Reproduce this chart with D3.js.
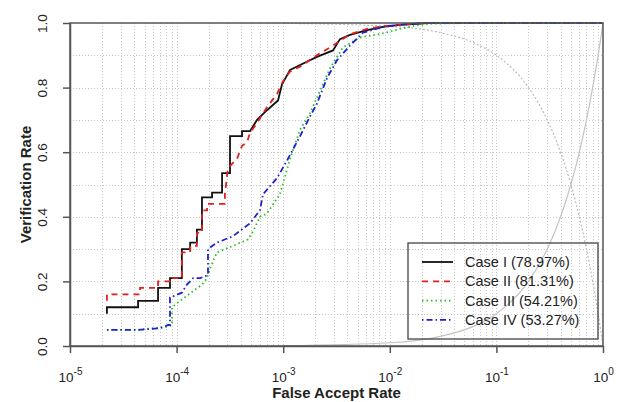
<!DOCTYPE html>
<html>
<head>
<meta charset="utf-8">
<script src="https://cdn.jsdelivr.net/npm/d3@7"></script>
<style>
  body { margin: 0; background: #fff; }
  text { font-family: "Liberation Sans", Arial, sans-serif; fill: #222; }
</style>
</head>
<body>
<script>
// false accept rate / verification rate
const caseIFar = [2.22e-5, 2.22e-5, 4.35e-5, 4.35e-5, 6.70e-5, 6.70e-5, 8.67e-5, 8.67e-5, 1.12e-4, 1.12e-4,
  1.34e-4, 1.34e-4, 1.55e-4, 1.55e-4, 1.73e-4, 1.73e-4, 2.15e-4, 2.15e-4, 2.67e-4, 2.67e-4,
  3.17e-4, 3.17e-4, 4.11e-4, 4.11e-4, 4.88e-4, 5.68e-4, 7.05e-4, 8.94e-4, 9.75e-4, 1.16e-3,
  1.44e-3, 2.07e-3, 2.93e-3, 3.41e-3, 4.23e-3, 6.11e-3, 8.63e-3, 1.25e-2, 2.23e-2, 1];
const caseIVr = [0.10, 0.12, 0.12, 0.14, 0.14, 0.18, 0.18, 0.21, 0.21, 0.30,
  0.30, 0.32, 0.32, 0.36, 0.36, 0.46, 0.46, 0.475, 0.475, 0.535,
  0.535, 0.65, 0.65, 0.665, 0.665, 0.70, 0.73, 0.76, 0.81, 0.855,
  0.87, 0.895, 0.915, 0.95, 0.963, 0.978, 0.988, 0.994, 1.0, 1.0];

const caseIIFar = [2.22e-5, 2.22e-5, 4.54e-5, 4.54e-5, 6.70e-5, 6.70e-5, 8.67e-5, 8.67e-5, 1.12e-4, 1.12e-4,
  1.34e-4, 1.34e-4, 1.55e-4, 1.55e-4, 1.73e-4, 1.73e-4, 1.93e-4, 1.93e-4, 2.84e-4, 2.84e-4,
  3.03e-4, 3.69e-4, 4.11e-4, 4.57e-4, 4.88e-4, 5.68e-4, 7.05e-4, 8.75e-4, 9.96e-4, 1.16e-3,
  1.44e-3, 2.07e-3, 2.93e-3, 3.41e-3, 4.23e-3, 6.11e-3, 8.63e-3, 1.25e-2, 2.23e-2, 1];
const caseIIVr = [0.14, 0.16, 0.16, 0.18, 0.18, 0.20, 0.20, 0.21, 0.21, 0.29,
  0.29, 0.31, 0.31, 0.35, 0.35, 0.42, 0.42, 0.44, 0.44, 0.47,
  0.55, 0.58, 0.62, 0.63, 0.66, 0.69, 0.74, 0.78, 0.82, 0.85,
  0.865, 0.90, 0.93, 0.945, 0.965, 0.982, 0.99, 0.994, 1.0, 1.0];

const caseIIIFar = [2.22e-5, 4.35e-5, 8.30e-5, 9.05e-5, 9.05e-5, 1.08e-4, 1.43e-4, 1.73e-4, 1.93e-4, 2.06e-4,
  2.39e-4, 3.38e-4, 4.67e-4, 5.21e-4, 6.05e-4, 7.05e-4, 9.33e-4, 1.16e-3, 1.44e-3, 1.78e-3,
  2.75e-3, 3.64e-3, 5.25e-3, 8.63e-3, 1.25e-2, 1.80e-2, 2.5e-2, 6e-2, 1];
const caseIIIVr = [0.05, 0.05, 0.06, 0.065, 0.12, 0.14, 0.17, 0.19, 0.21, 0.24,
  0.29, 0.31, 0.33, 0.355, 0.40, 0.41, 0.47, 0.58, 0.67, 0.72,
  0.86, 0.925, 0.955, 0.968, 0.982, 0.993, 0.998, 1.0, 1.0];

const caseIVFar = [2.22e-5, 4.35e-5, 6.99e-5, 7.78e-5, 8.30e-5, 8.67e-5, 8.67e-5, 1.12e-4, 1.25e-4, 1.43e-4,
  1.66e-4, 1.97e-4, 1.97e-4, 2.39e-4, 3.38e-4, 4.88e-4, 6.05e-4, 6.47e-4, 8.75e-4, 1.09e-3,
  1.44e-3, 1.78e-3, 2.07e-3, 2.58e-3, 3.20e-3, 4.23e-3, 5.61e-3, 8.63e-3, 1.25e-2, 2.23e-2, 1];
const caseIVVr = [0.05, 0.05, 0.055, 0.06, 0.065, 0.065, 0.15, 0.165, 0.19, 0.21,
  0.21, 0.22, 0.30, 0.32, 0.34, 0.38, 0.42, 0.47, 0.52, 0.575,
  0.65, 0.71, 0.75, 0.83, 0.885, 0.93, 0.97, 0.988, 0.995, 1.0, 1.0];

// grey guide curves in the background
const guideFar = [1e-3, 1e-2, 0.03, 0.06, 0.1, 0.2, 0.3, 0.4, 0.5, 0.6, 0.7, 0.8, 0.9, 0.95, 1];
const guideFall = [0.999, 0.99, 0.97, 0.94, 0.9, 0.8, 0.7, 0.6, 0.5, 0.4, 0.3, 0.2, 0.1, 0.05, 0];
const guideRise = [0.001, 0.01, 0.03, 0.06, 0.1, 0.2, 0.3, 0.4, 0.5, 0.6, 0.7, 0.8, 0.9, 0.95, 1];

const caseNames = ['Case I (78.97%)', 'Case II (81.31%)', 'Case III (54.21%)', 'Case IV (53.27%)'];
const xTicks = [1e-5, 1e-4, 1e-3, 1e-2, 1e-1, 1];
const xTickExp = ['-5', '-4', '-3', '-2', '-1', '0'];
const yTicks = [0, 0.2, 0.4, 0.6, 0.8, 1.0];

const W = 620, H = 402;
const m = { left: 70, right: 17, top: 23, bottom: 56 };

const svg = d3.select('body').append('svg')
  .attr('width', W)
  .attr('height', H);

const x = d3.scaleLog().domain([1e-5, 1]).range([m.left, W - m.right]);
const y = d3.scaleLinear().domain([0, 1]).range([H - m.bottom, m.top]);

/* grid */
const gridX = [];
for (let k = -5; k < 0; k++) {
  for (let j = 1; j <= 9; j++) gridX.push(j * Math.pow(10, k));
}
const grid = svg.append('g')
  .attr('stroke', '#c8c8c8')
  .attr('stroke-width', 1)
  .attr('stroke-dasharray', '1,2');
grid.selectAll('.gx')
  .data(gridX.slice(1))
  .enter().append('line')
  .attr('x1', d => Math.round(x(d)) + 0.5)
  .attr('x2', d => Math.round(x(d)) + 0.5)
  .attr('y1', y(1))
  .attr('y2', y(0));
grid.selectAll('.gy')
  .data(d3.range(1, 10).map(i => i / 10))
  .enter().append('line')
  .attr('x1', x(1e-5))
  .attr('x2', x(1))
  .attr('y1', d => Math.round(y(d)) + 0.5)
  .attr('y2', d => Math.round(y(d)) + 0.5);

/* guide curves */
const line = d3.line()
  .x(d => x(d[0]))
  .y(d => y(d[1]));

svg.append('path')
  .datum(d3.zip(guideFar, guideFall))
  .attr('d', line.curve(d3.curveMonotoneX))
  .attr('fill', 'none')
  .attr('stroke', '#bbb')
  .attr('stroke-width', 1.2)
  .attr('stroke-dasharray', '2,2');
svg.append('path')
  .datum(d3.zip(guideFar, guideRise))
  .attr('d', line.curve(d3.curveMonotoneX))
  .attr('fill', 'none')
  .attr('stroke', '#c4c4c4')
  .attr('stroke-width', 1.2);

/* ROC curves */
const series = [
  { far: caseIFar, vr: caseIVr, color: '#111', dash: null },
  { far: caseIIFar, vr: caseIIVr, color: '#e02020', dash: '6,5' },
  { far: caseIIIFar, vr: caseIIIVr, color: '#22c022', dash: '1.5,3' },
  { far: caseIVFar, vr: caseIVVr, color: '#2020d0', dash: '1.5,3,6,3' }
];
line.curve(d3.curveLinear);
series.forEach(s => {
  svg.append('path')
    .datum(d3.zip(s.far, s.vr))
    .attr('d', line)
    .attr('fill', 'none')
    .attr('stroke', s.color)
    .attr('stroke-width', 1.8)
    .attr('stroke-dasharray', s.dash);
});

/* frame */
svg.append('rect')
  .attr('x', x(1e-5))
  .attr('y', y(1))
  .attr('width', x(1) - x(1e-5))
  .attr('height', y(0) - y(1))
  .attr('fill', 'none')
  .attr('stroke', '#555')
  .attr('stroke-width', 1.5);

/* y axis */
const yAxis = d3.axisLeft(y)
  .tickValues(yTicks)
  .tickSize(7)
  .tickSizeOuter(0)
  .tickFormat(d3.format('.1f'));
const gy = svg.append('g')
  .attr('transform', `translate(${m.left},0)`)
  .call(yAxis);
gy.selectAll('line, path').attr('stroke', '#555').attr('stroke-width', 1.5);
gy.selectAll('text')
  .attr('x', null).attr('dy', null)
  .attr('text-anchor', 'middle')
  .attr('transform', 'translate(-23,0) rotate(-90)')
  .style('font-size', '13.5px')
  .style('font-family', '"Liberation Sans", Arial, sans-serif')
  .attr('fill', '#333');

/* x axis */
const xAxis = d3.axisBottom(x)
  .tickValues(xTicks)
  .tickSize(7)
  .tickSizeOuter(0)
  .tickFormat('');
const gx = svg.append('g')
  .attr('transform', `translate(0,${H - m.bottom})`)
  .call(xAxis);
gx.selectAll('line, path').attr('stroke', '#555').attr('stroke-width', 1.5);
gx.selectAll('.tick').each(function (d, i) {
  const t = d3.select(this).append('text')
    .attr('y', 36)
    .attr('text-anchor', 'middle')
    .attr('fill', '#333')
    .style('font-size', '13.5px')
    .style('font-family', '"Liberation Sans", Arial, sans-serif');
  t.append('tspan').text('10');
  t.append('tspan')
    .attr('dy', -7)
    .style('font-size', '10px')
    .text(xTickExp[i]);
});

/* axis titles */
svg.append('text')
  .attr('x', (x(1e-5) + x(1)) / 2)
  .attr('y', 398)
  .attr('text-anchor', 'middle')
  .style('font-size', '15px')
  .style('font-weight', 'bold')
  .text('False Accept Rate');
svg.append('text')
  .attr('transform', `translate(31,${(y(0) + y(1)) / 2}) rotate(-90)`)
  .attr('text-anchor', 'middle')
  .style('font-size', '15px')
  .style('font-weight', 'bold')
  .text('Verification Rate');

/* legend */
const legend = svg.append('g').attr('transform', 'translate(408,243)');
legend.append('rect')
  .attr('width', 190)
  .attr('height', 96)
  .attr('fill', 'none')
  .attr('stroke', '#444')
  .attr('stroke-width', 1.3);
const rows = legend.selectAll('.row')
  .data(series)
  .enter().append('g')
  .attr('transform', (d, i) => `translate(0,${19 + i * 19.3})`);
rows.append('line')
  .attr('x1', 14).attr('x2', 45)
  .attr('stroke', d => d.color)
  .attr('stroke-width', 1.8)
  .attr('stroke-dasharray', d => d.dash);
rows.append('text')
  .attr('x', 57)
  .attr('dy', '0.35em')
  .attr('fill', '#333')
  .style('font-size', '14.5px')
  .text((d, i) => caseNames[i]);
</script>
</body>
</html>
